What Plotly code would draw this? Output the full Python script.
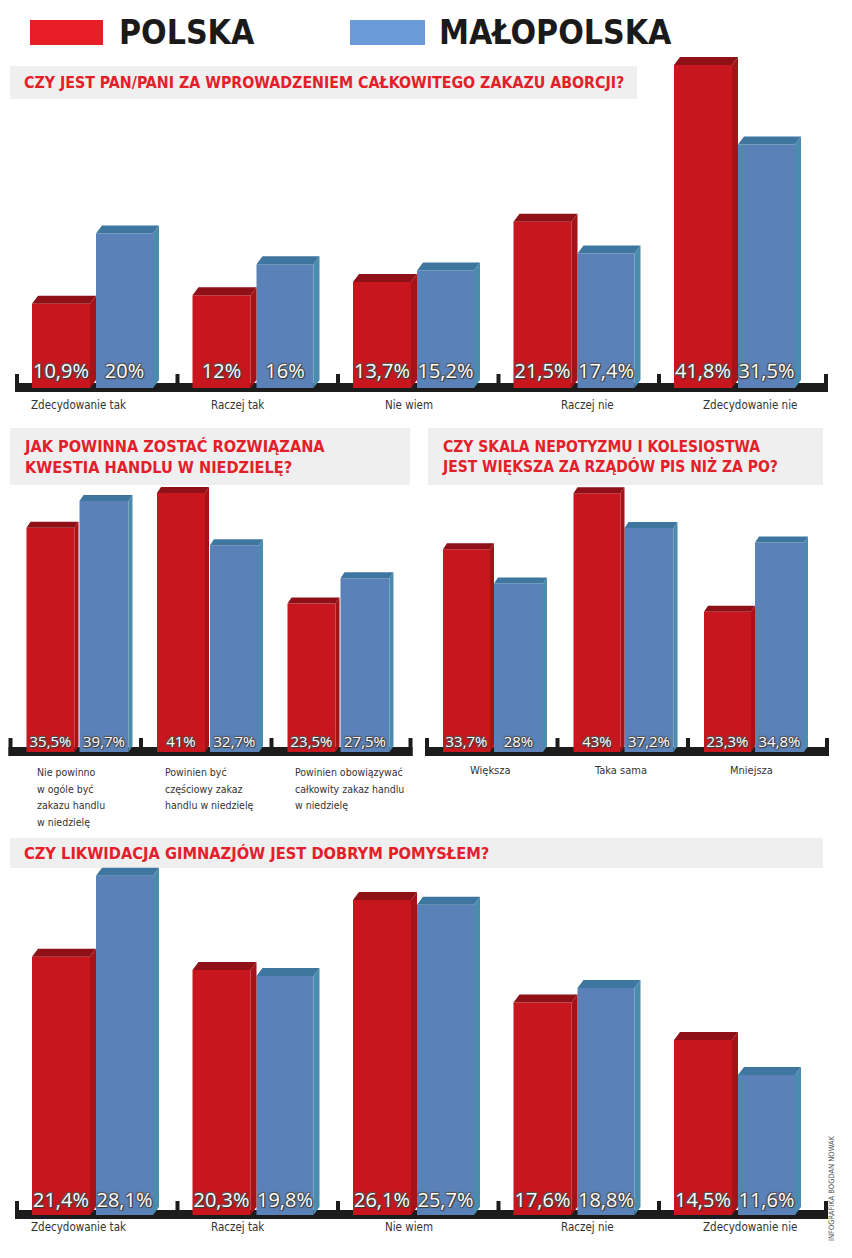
import plotly.graph_objects as go

# page body has an 8px margin: figure is laid out in window pixels shifted by OFF
OFF = 8
FW, FH = 836, 1242

# ---------------- data ----------------
legend_names = ["POLSKA", "MAŁOPOLSKA"]

q1_title = "CZY JEST PAN/PANI ZA WPROWADZENIEM CAŁKOWITEGO ZAKAZU ABORCJI?"
q1_categories = ["Zdecydowanie tak", "Raczej tak", "Nie wiem", "Raczej nie", "Zdecydowanie nie"]
q1_polska = [10.9, 12, 13.7, 21.5, 41.8]
q1_malopolska = [20, 16, 15.2, 17.4, 31.5]

q2_title = "JAK POWINNA ZOSTAĆ ROZWIĄZANA<br>KWESTIA HANDLU W NIEDZIELĘ?"
q2_categories = ["Nie powinno<br>w ogóle być<br>zakazu handlu<br>w niedzielę",
                 "Powinien być<br>częściowy zakaz<br>handlu w niedzielę",
                 "Powinien obowiązywać<br>całkowity zakaz handlu<br>w niedzielę"]
q2_polska = [35.5, 41, 23.5]
q2_malopolska = [39.7, 32.7, 27.5]

q3_title = "CZY SKALA NEPOTYZMU I KOLESIOSTWA<br>JEST WIĘKSZA ZA RZĄDÓW PIS NIŻ ZA PO?"
q3_categories = ["Większa", "Taka sama", "Mniejsza"]
q3_polska = [33.7, 43, 23.3]
q3_malopolska = [28, 37.2, 34.8]

q4_title = "CZY LIKWIDACJA GIMNAZJÓW JEST DOBRYM POMYSŁEM?"
q4_categories = ["Zdecydowanie tak", "Raczej tak", "Nie wiem", "Raczej nie", "Zdecydowanie nie"]
q4_polska = [21.4, 20.3, 26.1, 17.6, 14.5]
q4_malopolska = [28.1, 19.8, 25.7, 18.8, 11.6]

credit = "INFOGRAFIKA BOGDAN NOWAK"

# ---------------- styles ----------------
RED_FRONT, RED_TOP, RED_SIDE = "#c8161e", "#8f1016", "#a51319"
BLUE_FRONT, BLUE_TOP, BLUE_SIDE = "#5b82b8", "#3f76a0", "#4a8cad"
LEG_RED, LEG_BLUE = "#e81e26", "#6a9bd8"
FLOOR = "#1c1c1c"
TITLE_RED = "#e3202a"
BAND = "#efefef"
COND = "DejaVu Sans Condensed, Liberation Sans Narrow, DejaVu Sans, sans-serif"
ROUND = "Open Sans, Noto Sans, sans-serif"


def PX(x):
    return (x - OFF) / FW


def PY(y):
    return 1 - (y - OFF) / FH


panels = [
    dict(ax="", cats=q1_categories, pol=q1_polska, mal=q1_malopolska,
         pxl=8, pxr=844, cx0=95, pitch=160.5, zero=388, ppu=7.73, top=48, bottom=402,
         red=(-63, -5), blue=(1, 58), dx=6, dy=8, valy=373, vsize=20,
         floor=(-80, 91), cat_mode="center", caty=405, cshift=[-17, -18, -7, 11, 13], csize=11.5),
    dict(ax="2", cats=q2_categories, pol=q2_polska, mal=q2_malopolska,
         pxl=8, pxr=420, cx0=78.5, pitch=130.5, zero=752, ppu=6.32, top=484, bottom=764,
         red=(-52, -4), blue=(1, 50), dx=4, dy=6, valy=743, vsize=15,
         floor=(-70, 73), cat_mode="left", caty=772, cshift=[-44, -46, -47], csize=10.5),
    dict(ax="3", cats=q3_categories, pol=q3_polska, mal=q3_malopolska,
         pxl=420, pxr=844, cx0=493, pitch=130.5, zero=752, ppu=6.02, top=484, bottom=764,
         red=(-50, -3), blue=(1, 50), dx=4, dy=6, valy=743, vsize=15,
         floor=(-68, 75), cat_mode="center", caty=771, cshift=[-3, -3, -3], csize=11),
    dict(ax="4", cats=q4_categories, pol=q4_polska, mal=q4_malopolska,
         pxl=8, pxr=844, cx0=95, pitch=160.5, zero=1215, ppu=12.07, top=858, bottom=1230,
         red=(-63, -5), blue=(1, 58), dx=6, dy=8, valy=1202, vsize=20,
         floor=(-80, 91), cat_mode="center", caty=1227, cshift=[-17, -18, -7, 11, 13], csize=11.5),
]

fig = go.Figure()
layout_axes = {}
annotations = []
shapes = []


def fmt(v):
    return f"{v:g}".replace(".", ",") + "%"


for p in panels:
    xa, ya = "x" + p["ax"], "y" + p["ax"]
    n = len(p["cats"])
    idx = list(range(n))
    pitch, ppu = p["pitch"], p["ppu"]
    layout_axes["xaxis" + p["ax"]] = dict(
        domain=[PX(p["pxl"]), PX(p["pxr"])],
        range=[(p["pxl"] - p["cx0"]) / pitch, (p["pxr"] - p["cx0"]) / pitch],
        visible=False, anchor=ya, fixedrange=True)
    layout_axes["yaxis" + p["ax"]] = dict(
        domain=[PY(p["bottom"]), PY(p["top"])],
        range=[(p["zero"] - p["bottom"]) / ppu, (p["zero"] - p["top"]) / ppu],
        visible=False, anchor=xa, fixedrange=True)

    # floor (dark base strip)
    fl, fr = p["floor"]
    fig.add_trace(go.Bar(x=idx, y=[9 / ppu] * n, base=[-4 / ppu] * n,
                         offset=fl / pitch, width=(fr - fl) / pitch,
                         marker=dict(color=FLOOR, line_width=0),
                         xaxis=xa, yaxis=ya, hoverinfo="skip", showlegend=False))
    fig.add_trace(go.Bar(x=idx, y=[18 / ppu] * n, base=[-4 / ppu] * n,
                         offset=fl / pitch, width=4 / pitch,
                         marker=dict(color=FLOOR, line_width=0),
                         xaxis=xa, yaxis=ya, hoverinfo="skip", showlegend=False))
    fig.add_trace(go.Bar(x=[idx[-1]], y=[18 / ppu], base=[-4 / ppu],
                         offset=(fr - 4) / pitch, width=4 / pitch,
                         marker=dict(color=FLOOR, line_width=0),
                         xaxis=xa, yaxis=ya, hoverinfo="skip", showlegend=False))

    dxu, dyu = p["dx"] / pitch, p["dy"] / ppu
    for vals, (o0, o1), cf, ct, cs, name in [
        (p["pol"], p["red"], RED_FRONT, RED_TOP, RED_SIDE, legend_names[0]),
        (p["mal"], p["blue"], BLUE_FRONT, BLUE_TOP, BLUE_SIDE, legend_names[1]),
    ]:
        off, wid = o0 / pitch, (o1 - o0) / pitch
        # front faces
        fig.add_trace(go.Bar(x=idx, y=vals, offset=off, width=wid,
                             marker=dict(color=cf, line_width=0), name=name,
                             xaxis=xa, yaxis=ya, showlegend=False,
                             hovertemplate=name + ": %{y}%<extra></extra>"))
        # side and top faces
        sx, sy, tx, ty = [], [], [], []
        for i, v in zip(idx, vals):
            x0, x1 = i + off, i + off + wid
            sx += [x1, x1 + dxu, x1 + dxu, x1, x1, None]
            sy += [v, v + dyu, dyu, 0, v, None]
            tx += [x0, x0 + dxu, x1 + dxu, x1, x0, None]
            ty += [v, v + dyu, v + dyu, v, v, None]
        fig.add_trace(go.Scatter(x=sx, y=sy, mode="lines", fill="toself", fillcolor=cs,
                                 line=dict(width=0, color=cs), xaxis=xa, yaxis=ya,
                                 hoverinfo="skip", showlegend=False))
        fig.add_trace(go.Scatter(x=tx, y=ty, mode="lines", fill="toself", fillcolor=ct,
                                 line=dict(width=0, color=ct), xaxis=xa, yaxis=ya,
                                 hoverinfo="skip", showlegend=False))

    # value labels
    for vals, (o0, o1) in [(p["pol"], p["red"]), (p["mal"], p["blue"])]:
        cx = (o0 + o1) / 2 / pitch
        fig.add_trace(go.Scatter(
            x=[i + cx for i in idx], y=[(p["zero"] - p["valy"]) / ppu] * n,
            mode="text", text=[fmt(v) for v in vals],
            textfont=dict(family=ROUND, size=p["vsize"], color="white",
                          shadow="1px 1px 1px #333, -1px -1px 1px #555, 1px -1px 1px #555, -1px 1px 1px #555"),
            xaxis=xa, yaxis=ya, hoverinfo="skip", showlegend=False, cliponaxis=False))

    # category labels
    for i, c in enumerate(p["cats"]):
        if p["cat_mode"] == "left":
            for k, line in enumerate(c.split("<br>")):
                annotations.append(dict(x=i, y=PY(p["caty"] + 16.5 * k), xref=xa, yref="paper",
                                        text=line, showarrow=False, xanchor="left", yanchor="middle",
                                        xshift=p["cshift"][i],
                                        font=dict(family=COND, size=p["csize"], color="#333")))
        else:
            annotations.append(dict(x=i, y=PY(p["caty"]), xref=xa, yref="paper",
                                    text=c, showarrow=False, xanchor="center", yanchor="middle",
                                    xshift=p["cshift"][i],
                                    font=dict(family=COND, size=p["csize"], color="#333")))

# ---------------- legend ----------------
for (x0, x1), col, (tx, name) in [((30, 103), LEG_RED, (117, legend_names[0])),
                                   ((350, 425), LEG_BLUE, (437, legend_names[1]))]:
    shapes.append(dict(type="rect", xref="paper", yref="paper",
                       x0=PX(x0), x1=PX(x1), y0=PY(45), y1=PY(20),
                       fillcolor=col, line_width=0))
    annotations.append(dict(x=PX(tx), y=PY(33), xref="paper", yref="paper", text=name,
                            showarrow=False, xanchor="left", yanchor="middle",
                            font=dict(family=COND, size=33.5, color="#1a1a1a", weight="bold")))

# ---------------- titles ----------------
titles = [
    (q1_title, (10, 637, 66, 99), 15.8),
    (q2_title, (10, 410, 428, 485), 16.2),
    (q3_title, (428, 823, 428, 485), 15.5),
    (q4_title, (10, 823, 838, 868), 16.3),
]
for text, (x0, x1, y0, y1), size in titles:
    shapes.append(dict(type="rect", xref="paper", yref="paper", layer="below",
                       x0=PX(x0), x1=PX(x1), y0=PY(y1), y1=PY(y0),
                       fillcolor=BAND, line_width=0))
    annotations.append(dict(x=PX(x0 + 12), y=PY((y0 + y1) / 2), xref="paper", yref="paper",
                            text=text, showarrow=False, xanchor="left", yanchor="middle",
                            align="left",
                            font=dict(family=COND, size=size, color=TITLE_RED, weight="bold")))

annotations.append(dict(x=PX(831), y=PY(1188), xref="paper", yref="paper", text=credit,
                        showarrow=False, textangle=-90, xanchor="center", yanchor="middle",
                        font=dict(family=COND, size=7.5, color="#555")))

fig.update_layout(
    width=FW, height=FH, margin=dict(l=0, r=0, t=0, b=0),
    paper_bgcolor="white", plot_bgcolor="rgba(0,0,0,0)",
    barmode="overlay", showlegend=False,
    shapes=shapes, annotations=annotations, **layout_axes)

fig.write_html("out.html")
